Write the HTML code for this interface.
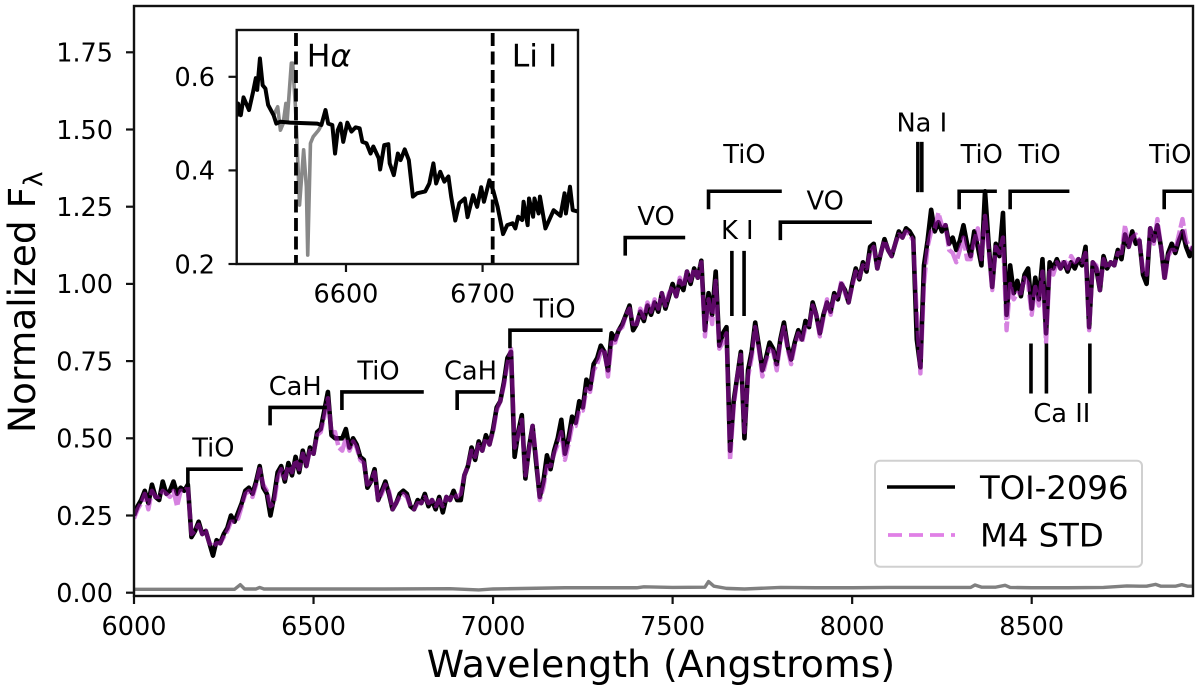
<!DOCTYPE html>
<html lang="en">
<head>
<meta charset="utf-8">
<title>TOI-2096 spectrum</title>
<style>
html,body{margin:0;padding:0;background:#fff;width:1200px;height:695px;overflow:hidden}
svg{display:block;filter:blur(0.35px)}
text{font-family:"DejaVu Sans","Liberation Sans",sans-serif;fill:#000}
</style>
</head>
<body>
<svg id="chart" xmlns="http://www.w3.org/2000/svg" width="1200" height="695" viewBox="0 0 1200 695">
  <defs>
    <clipPath id="main-clip"><rect x="134" y="6" width="1059" height="590"></rect></clipPath>
    <clipPath id="inset-clip"><rect x="236.7" y="30" width="341.3" height="234"></rect></clipPath>
  </defs>
  <g id="main-series" clip-path="url(#main-clip)"></g>
  <g id="annotations"></g>
  <rect x="134" y="6" width="1059" height="590" fill="none" stroke="#111" stroke-width="2.4"></rect>
  <g id="main-ticks"></g>
  <text x="661" y="677" font-size="37.8" text-anchor="middle">Wavelength (Angstroms)</text>
  <text transform="translate(35 433) rotate(-90)" font-size="37.5">Normalized F<tspan font-size="26" dy="7">λ</tspan></text>

  <rect x="236.7" y="30" width="341.3" height="234" fill="#fff"></rect>
  <g id="inset-series" clip-path="url(#inset-clip)"></g>
  <rect x="236.7" y="30" width="341.3" height="234" fill="none" stroke="#111" stroke-width="2.4"></rect>
  <g id="inset-ticks"></g>
  <text x="306.7" y="66.7" font-size="31.5">H<tspan font-style="italic">α</tspan></text>
  <text x="511.7" y="66.7" font-size="31.5">Li I</text>

  <g>
    <rect x="875" y="460.7" width="267" height="106" rx="5" ry="5" fill="#fff" fill-opacity="0.85" stroke="#d0d0d0" stroke-width="2"></rect>
    <line x1="887" y1="487" x2="955" y2="487" stroke="#000" stroke-width="3.6"></line>
    <line x1="888" y1="535" x2="955" y2="535" stroke="#e080e6" stroke-width="3.8" stroke-dasharray="14 7"></line>
    <text x="980" y="499" font-size="32.3">TOI-2096</text>
    <text x="980" y="546.7" font-size="32.3">M4 STD</text>
  </g>
</svg>
<script>
const wavelengths = [
6000,6010,6020,6030,6040,6050,6060,6070,6080,6090,
6100,6110,6120,6130,6140,6150,6160,6170,6180,6190,
6200,6210,6220,6230,6240,6250,6260,6270,6280,6290,
6300,6310,6320,6330,6340,6350,6360,6370,6380,6390,
6400,6410,6420,6430,6440,6450,6460,6470,6480,6490,
6500,6510,6520,6530,6540,6550,6560,6570,6580,6590,
6600,6610,6620,6630,6640,6650,6660,6670,6680,6690,
6700,6710,6720,6730,6740,6750,6760,6770,6780,6790,
6800,6810,6820,6830,6840,6850,6860,6870,6880,6890,
6900,6910,6920,6930,6940,6950,6960,6970,6980,6990,
7000,7010,7020,7030,7040,7050,7060,7070,7080,7090,
7100,7110,7120,7130,7140,7150,7160,7170,7180,7190,
7200,7210,7220,7230,7240,7250,7260,7270,7280,7290,
7300,7310,7320,7330,7340,7350,7360,7370,7380,7390,
7400,7410,7420,7430,7440,7450,7460,7470,7480,7490,
7500,7510,7520,7530,7540,7550,7560,7570,7580,7590,
7600,7610,7620,7630,7640,7650,7660,7670,7680,7690,
7700,7710,7720,7730,7740,7750,7760,7770,7780,7790,
7800,7810,7820,7830,7840,7850,7860,7870,7880,7890,
7900,7910,7920,7930,7940,7950,7960,7970,7980,7990,
8000,8010,8020,8030,8040,8050,8060,8070,8080,8090,
8100,8110,8120,8130,8140,8150,8160,8170,8180,8190,
8200,8210,8220,8230,8240,8250,8260,8270,8280,8290,
8300,8310,8320,8330,8340,8350,8360,8370,8380,8390,
8400,8410,8420,8430,8440,8450,8460,8470,8480,8490,
8500,8510,8520,8530,8540,8550,8560,8570,8580,8590,
8600,8610,8620,8630,8640,8650,8660,8670,8680,8690,
8700,8710,8720,8730,8740,8750,8760,8770,8780,8790,
8800,8810,8820,8830,8840,8850,8860,8870,8880,8890,
8900,8910,8920,8930,8940,8950];
const toiFlux = [
.25,.28,.30,.33,.29,.35,.31,.30,.36,.32,
.33,.36,.32,.34,.33,.35,.18,.20,.23,.19,
.20,.16,.12,.17,.16,.19,.21,.25,.23,.26,
.29,.33,.34,.32,.36,.41,.34,.32,.25,.31,
.39,.41,.36,.42,.38,.44,.39,.46,.41,.47,
.45,.52,.53,.59,.65,.51,.50,.50,.50,.53,
.47,.50,.48,.44,.43,.34,.36,.40,.30,.33,
.36,.32,.27,.29,.32,.33,.32,.28,.27,.30,
.29,.32,.28,.30,.27,.31,.26,.31,.30,.33,
.30,.30,.38,.41,.47,.43,.49,.46,.51,.48,
.53,.60,.62,.68,.76,.78,.44,.52,.575,.37,
.47,.54,.42,.31,.36,.445,.40,.46,.50,.56,
.45,.50,.57,.55,.62,.60,.69,.66,.74,.76,
.80,.78,.72,.84,.82,.85,.87,.90,.93,.85,
.87,.91,.88,.93,.90,.94,.91,.97,.92,.96,
1.00,.96,1.01,.98,1.04,1.00,1.05,1.02,1.075,.85,
.97,.90,1.04,.80,.84,.86,.46,.62,.70,.78,
.50,.72,.78,.875,.80,.72,.76,.81,.79,.74,
.82,.875,.80,.755,.81,.85,.82,.88,.86,.94,
.90,.84,.90,.94,.91,.97,.95,1.00,.98,.94,
1.00,1.05,1.015,1.07,1.04,1.12,1.13,1.05,1.10,1.145,
1.11,1.09,1.13,1.17,1.15,1.18,1.17,1.15,.82,.73,
1.06,1.14,1.24,1.17,1.20,1.17,1.19,1.13,1.15,1.11,
1.14,1.19,1.13,1.09,1.17,1.12,1.06,1.30,1.13,.99,
1.13,1.09,1.23,.90,1.06,.97,1.01,.96,1.03,1.05,
.92,1.02,.95,1.08,.84,1.07,1.05,1.08,1.05,1.07,
1.04,1.07,1.05,1.08,1.06,1.12,.86,1.07,1.05,.98,
1.09,1.05,1.07,1.06,1.11,1.08,1.16,1.12,1.17,1.13,
1.14,1.03,1.00,1.18,1.14,1.19,1.12,1.02,1.10,1.13,
1.10,1.14,1.17,1.12,1.09,1.12];
const stdFlux = [
.24,.27,.29,.32,.27,.33,.31,.31,.33,.32,
.31,.33,.28,.33,.33,.34,.19,.20,.22,.19,
.20,.16,.15,.16,.16,.18,.20,.23,.23,.24,
.28,.32,.33,.31,.35,.40,.35,.33,.28,.29,
.37,.40,.37,.41,.39,.43,.40,.45,.41,.46,
.45,.51,.52,.57,.63,.52,.52,.47,.46,.50,
.46,.49,.47,.43,.42,.35,.36,.39,.30,.32,
.35,.33,.27,.29,.31,.32,.31,.28,.27,.29,
.29,.31,.29,.30,.28,.30,.28,.31,.30,.32,
.31,.32,.38,.41,.46,.44,.48,.46,.50,.48,
.52,.59,.62,.67,.74,.79,.47,.51,.56,.38,
.46,.54,.44,.30,.34,.41,.41,.45,.48,.52,
.43,.48,.54,.54,.59,.59,.66,.65,.72,.74,
.78,.79,.70,.81,.81,.85,.86,.90,.92,.87,
.87,.92,.89,.94,.91,.95,.92,.97,.93,.97,
.99,.96,1.02,.99,1.04,1.01,1.05,1.02,1.07,.83,
.95,.87,1.01,.79,.81,.84,.43,.60,.70,.77,
.52,.70,.76,.86,.79,.70,.75,.79,.78,.72,
.81,.86,.79,.74,.80,.84,.81,.86,.86,.93,
.90,.83,.89,.95,.90,.96,.95,1.01,.97,.94,
.99,1.04,1.02,1.06,1.05,1.10,1.12,1.05,1.10,1.14,
1.11,1.09,1.13,1.16,1.15,1.17,1.16,1.14,.90,.71,
1.00,1.12,1.17,1.18,1.23,1.19,1.19,1.11,1.10,1.07,
1.11,1.15,1.08,1.08,1.14,1.18,1.08,1.22,1.11,.98,
1.12,1.10,1.15,.85,1.00,.95,.97,.97,1.02,1.00,
.90,.99,.93,1.04,.81,1.05,1.03,1.07,1.05,1.08,
1.05,1.09,1.07,1.08,1.07,1.10,.85,1.07,1.06,.98,
1.08,1.05,1.07,1.06,1.10,1.10,1.19,1.12,1.15,1.16,
1.14,1.04,1.03,1.18,1.13,1.21,1.12,1.01,1.09,1.11,
1.11,1.16,1.21,1.14,1.12,1.11];
const residualWave = [6000,6150,6280,6296,6308,6340,6350,6362,6500,6700,6880,6960,7000,7100,7200,7300,7400,7420,7500,7590,7600,7615,7650,7700,7800,7900,8000,8100,8200,8330,8342,8360,8400,8426,8440,8500,8600,8700,8765,8800,8820,8845,8860,8900,8918,8935,8950];
const residualFlux = [.011,.011,.011,.026,.012,.012,.017,.012,.012,.012,.013,.009,.012,.014,.016,.016,.016,.019,.017,.018,.036,.021,.014,.012,.017,.016,.016,.017,.017,.017,.025,.018,.018,.024,.017,.016,.016,.017,.022,.021,.021,.027,.021,.021,.026,.021,.021];

const xTickValues = [6000,6500,7000,7500,8000,8500];
const yTickValues = [0,0.25,0.5,0.75,1,1.25,1.5,1.75];
const yTickLabels = ["0.00","0.25","0.50","0.75","1.00","1.25","1.50","1.75"];

const bandLabels = ["TiO","CaH","TiO","CaH","TiO","VO","TiO","VO","TiO","TiO","TiO"];
const bandStart = [6150,6379,6579,6900,7047,7368,7600,7800,8298,8440,8869];
const bandEnd = [6303,6537,6807,7006,7305,7535,7804,8055,8403,8605,8950];
const bandLevel = [.40,.60,.65,.65,.85,1.15,1.30,1.20,1.30,1.30,1.30];
const bandLabelWave = [6221,6449,6681,6937,7171,7454,7700,7925,8361,8522,8886];
const bandLabelFlux = [.441,.641,.691,.691,.891,1.191,1.391,1.241,1.391,1.391,1.391];

const lineLabels = ["K I","Na I","Ca II"];
const lineLabelWave = [7680,8194,8584];
const lineLabelFlux = [1.145,1.494,.552];
const lineWaves = [7665,7699,8183,8194,8498,8541,8662];
const lineTop = [1.107,1.107,1.46,1.46,.807,.807,.807];
const lineBottom = [.896,.896,1.297,1.297,.645,.645,.645];

const insetWave = [6520,6521,6523,6525,6529,6532,6534,6535,6537,6539,6541,6543,6547,6549,6552,6559,6579,6582,6585,6587,6590,6592,6594,6596,6598,6601,6604,6607,6610,6612,6615,6618,6620,6624,6625,6628,6631,6632,6635,6638,6640,6643,6646,6649,6652,6658,6661,6664,6666,6669,6672,6675,6677,6680,6683,6687,6689,6693,6696,6699,6701,6705,6708,6711,6715,6718,6722,6724,6726,6729,6730,6733,6734,6737,6738,6741,6742,6746,6752,6757,6760,6761,6764,6766,6770];
const insetFlux = [.515,.543,.518,.556,.529,.568,.597,.572,.639,.582,.575,.54,.518,.50,.504,.502,.50,.497,.529,.50,.497,.436,.486,.50,.461,.502,.483,.492,.49,.461,.458,.436,.451,.426,.402,.454,.456,.415,.39,.436,.422,.445,.422,.344,.351,.355,.372,.415,.372,.397,.376,.387,.344,.293,.33,.34,.30,.347,.322,.364,.333,.379,.355,.322,.264,.283,.287,.276,.301,.294,.333,.283,.34,.301,.34,.308,.344,.276,.315,.303,.351,.308,.365,.315,.312];
const insetRawWave = [6543,6547,6550,6552,6554,6556,6557,6560,6561,6563,6565,6566,6569,6571,6572,6574,6576,6580,6582];
const insetRawFlux = [.54,.518,.536,.486,.50,.543,.508,.629,.629,.536,.40,.326,.444,.365,.219,.458,.472,.486,.497];
const insetXTicks = [6600,6700];
const insetYTicks = [0.2,0.4,0.6];
const insetYLabels = ["0.2","0.4","0.6"];
const insetMarkerWaves = [6563.4,6707.4];

const SVGNS = "http://www.w3.org/2000/svg";
const xMain = w => 134 + (w - 6000) * 0.35908;
const yMain = f => 592.7 - f * 308.8;
const xInset = w => 236.7 + (w - 6520) * 1.366;
const yInset = f => 264 - (f - 0.2) * 468;

function mk(parent, tag, attrs, content) {
  const el = document.createElementNS(SVGNS, tag);
  for (const k in attrs) el.setAttribute(k, attrs[k]);
  if (content !== undefined) el.textContent = content;
  parent.appendChild(el);
  return el;
}
function pathOf(xs, ys, xf, yf) {
  const n = Math.min(xs.length, ys.length);
  let d = "";
  for (let i = 0; i < n; i++) d += (i ? "L" : "M") + xf(xs[i]).toFixed(2) + " " + yf(ys[i]).toFixed(2);
  return d;
}

const mainG = document.getElementById("main-series");
const annG = document.getElementById("annotations");
const tickG = document.getElementById("main-ticks");
const insetG = document.getElementById("inset-series");
const insetTickG = document.getElementById("inset-ticks");

const residualPath = mk(mainG, "path", {d: pathOf(residualWave, residualFlux, xMain, yMain), fill: "none", stroke: "#808080", "stroke-width": 3.4, "stroke-linejoin": "round"});



const toiPath = mk(mainG, "path", {d: pathOf(wavelengths, toiFlux, xMain, yMain), fill: "none", stroke: "#000", "stroke-width": 4.6, "stroke-linejoin": "round"});



const stdPath = mk(mainG, "path", {d: pathOf(wavelengths, stdFlux, xMain, yMain), fill: "none", stroke: "#b010c4", "stroke-opacity": 0.52, "stroke-width": 4.4, "stroke-dasharray": "16 3", "stroke-linejoin": "round"});



bandLabels.forEach((label, i) => {
  const x1 = xMain(bandStart[i]), x2 = Math.min(xMain(bandEnd[i]), 1193), y = yMain(bandLevel[i]);
  const bracket = mk(annG, "path", {d: `M${x1} ${y + 18}V${y}H${x2}`, fill: "none", stroke: "#000", "stroke-width": 3.6});
  
  
  const txt = mk(annG, "text", {x: xMain(bandLabelWave[i]), y: yMain(bandLabelFlux[i]), "font-size": 25.7, "text-anchor": "middle"}, label);
  
  
});
lineWaves.forEach((w, i) => {
  const l = mk(annG, "line", {x1: xMain(w), x2: xMain(w), y1: yMain(lineTop[i]), y2: yMain(lineBottom[i]), stroke: "#000", "stroke-width": 3.6});
  
  
});
lineLabels.forEach((label, i) => {
  const t = mk(annG, "text", {x: xMain(lineLabelWave[i]), y: yMain(lineLabelFlux[i]), "font-size": 25.7, "text-anchor": "middle"}, label);
  
  
});

xTickValues.forEach(v => {
  const t = mk(tickG, "line", {x1: xMain(v), x2: xMain(v), y1: 596, y2: 604, stroke: "#111", "stroke-width": 2.2});
  
  
  const l = mk(tickG, "text", {x: xMain(v), y: 635, "font-size": 25.5, "text-anchor": "middle"}, String(v));
  
  
});
yTickValues.forEach((v, i) => {
  const t = mk(tickG, "line", {x1: 126, x2: 134, y1: yMain(v), y2: yMain(v), stroke: "#111", "stroke-width": 2.2});
  
  
  const l = mk(tickG, "text", {x: 113, y: yMain(v) + 9.3, "font-size": 25.5, "text-anchor": "end"}, yTickLabels[i]);
  
  
});

const rawPath = mk(insetG, "path", {d: pathOf(insetRawWave, insetRawFlux, xInset, yInset), fill: "none", stroke: "#888", "stroke-width": 3.6, "stroke-linejoin": "round"});



const insetPath = mk(insetG, "path", {d: pathOf(insetWave, insetFlux, xInset, yInset), fill: "none", stroke: "#000", "stroke-width": 4, "stroke-linejoin": "round"});



insetMarkerWaves.forEach(w => {
  const m = mk(insetG, "line", {x1: xInset(w), x2: xInset(w), y1: 33, y2: 264, stroke: "#000", "stroke-width": 3.8, "stroke-dasharray": "13 5.5"});
  
  
});
insetXTicks.forEach(v => {
  const t = mk(insetTickG, "line", {x1: xInset(v), x2: xInset(v), y1: 264, y2: 272, stroke: "#111", "stroke-width": 2.2});
  
  
  const l = mk(insetTickG, "text", {x: xInset(v), y: 302.7, "font-size": 25.5, "text-anchor": "middle"}, String(v));
  
  
});
insetYTicks.forEach((v, i) => {
  const t = mk(insetTickG, "line", {x1: 228.5, x2: 236.7, y1: yInset(v), y2: yInset(v), stroke: "#111", "stroke-width": 2.2});
  
  
  const l = mk(insetTickG, "text", {x: 215, y: yInset(v) + 9.3, "font-size": 25.5, "text-anchor": "end"}, insetYLabels[i]);
  
  
});
</script>
</body>
</html>
